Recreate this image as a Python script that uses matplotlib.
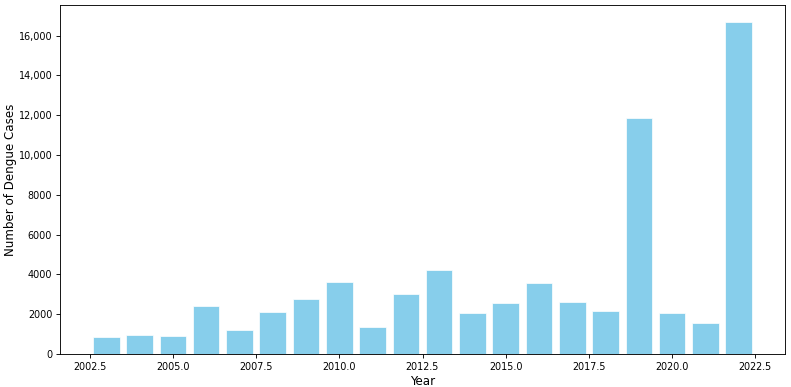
import matplotlib
matplotlib.use("Agg")
import matplotlib.pyplot as plt
from matplotlib.ticker import FuncFormatter

years = [2003, 2004, 2005, 2006, 2007, 2008, 2009, 2010, 2011, 2012,
         2013, 2014, 2015, 2016, 2017, 2018, 2019, 2020, 2021, 2022]
cases = [870, 960, 900, 2430, 1220, 2110, 2780, 3640, 1370, 3010,
         4240, 2040, 2540, 3550, 2610, 2180, 11880, 2040, 1540, 16700]

fig = plt.figure(figsize=(7.91, 3.87), dpi=100)
ax = fig.add_axes([60/791, 1-354/387, (785-60)/791, (354-5)/387])
ax.bar(years, cases, color="skyblue", edgecolor="white", linewidth=0.5, width=0.8)

def fmt(v, pos):
    v = int(round(v))
    return f"{v:,}" if v >= 10000 else f"{v}"

ax.yaxis.set_major_formatter(FuncFormatter(fmt))
ax.set_xlabel("Year", fontsize=8.6, labelpad=2.5)
ax.set_ylabel("Number of Dengue Cases", fontsize=8.6, labelpad=0.8)
ax.tick_params(labelsize=6.9, length=2.8, width=0.64, pad=2.8)
for s in ax.spines.values():
    s.set_linewidth(0.64)
fig.savefig("out.png", dpi=100)
